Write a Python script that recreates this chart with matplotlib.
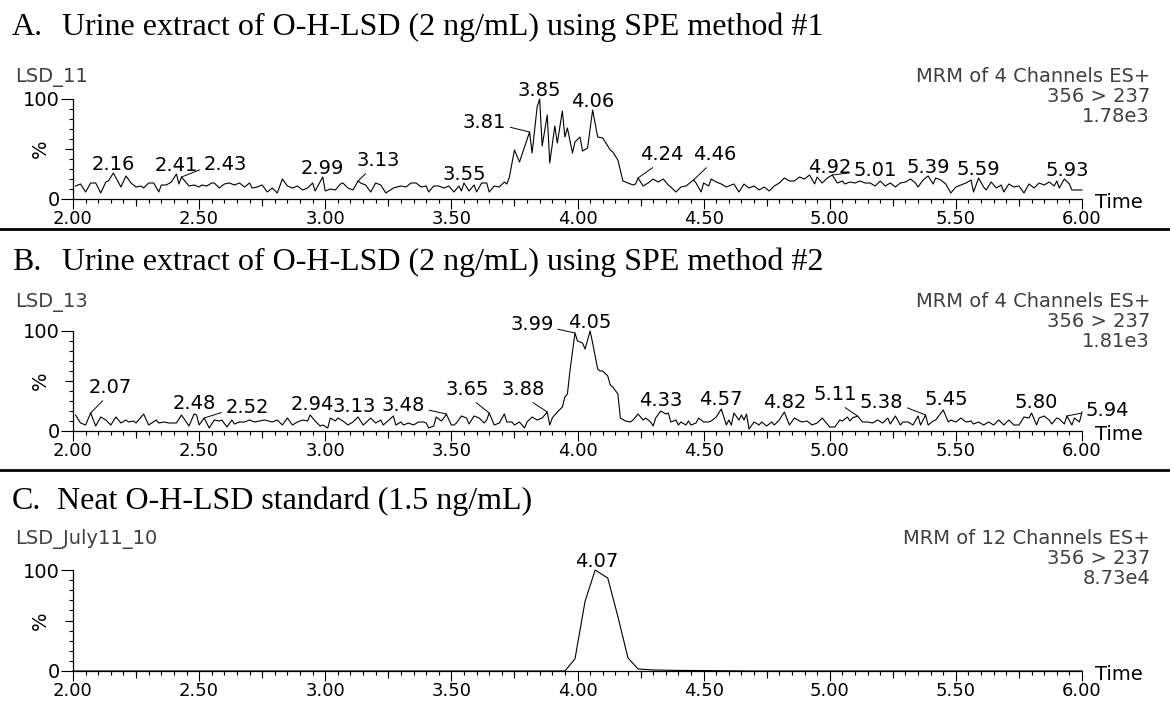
import matplotlib
matplotlib.use("Agg")
import matplotlib.pyplot as plt
from matplotlib.lines import Line2D
from matplotlib.ticker import MultipleLocator, FormatStrFormatter
import numpy as np

#Canvas size in pixels (dpi 100) and pixel -> point factor
W, H = 1170, 704
PT = 0.72

#Panel A: urine extract, SPE method #1 (time in min, intensity in %)
a_time = [2.01, 2.03, 2.05, 2.07, 2.09, 2.11, 2.13, 2.14, 2.16, 2.19,
          2.21, 2.23, 2.25, 2.27, 2.28, 2.30, 2.32, 2.34, 2.35, 2.37,
          2.39, 2.41, 2.42, 2.43, 2.46, 2.48, 2.50, 2.51, 2.53, 2.55,
          2.56, 2.58, 2.60, 2.62, 2.64, 2.66, 2.68, 2.70, 2.71, 2.73,
          2.75, 2.77, 2.79, 2.81, 2.83, 2.85, 2.87, 2.89, 2.91, 2.93,
          2.95, 2.96, 2.99, 3.00, 3.02, 3.04, 3.06, 3.07, 3.09, 3.11,
          3.13, 3.14, 3.16, 3.18, 3.20, 3.22, 3.24, 3.27, 3.30, 3.32,
          3.34, 3.36, 3.38, 3.40, 3.41, 3.43, 3.45, 3.47, 3.49, 3.51,
          3.53, 3.54, 3.55, 3.57, 3.59, 3.60, 3.62, 3.64, 3.65, 3.67,
          3.69, 3.71, 3.72, 3.73, 3.75, 3.77, 3.81, 3.82, 3.84, 3.85,
          3.86, 3.88, 3.89, 3.91, 3.92, 3.94, 3.95, 3.96, 3.98, 3.99,
          4.01, 4.02, 4.04, 4.06, 4.08, 4.10, 4.13, 4.14, 4.16, 4.18,
          4.20, 4.22, 4.23, 4.24, 4.26, 4.28, 4.30, 4.32, 4.34, 4.36,
          4.37, 4.39, 4.41, 4.43, 4.46, 4.47, 4.49, 4.50, 4.52, 4.53,
          4.55, 4.57, 4.59, 4.61, 4.62, 4.64, 4.66, 4.68, 4.70, 4.72,
          4.74, 4.76, 4.78, 4.80, 4.82, 4.84, 4.86, 4.88, 4.90, 4.92,
          4.94, 4.95, 4.97, 4.99, 5.01, 5.03, 5.05, 5.06, 5.08, 5.10,
          5.12, 5.14, 5.16, 5.18, 5.20, 5.22, 5.24, 5.26, 5.28, 5.30,
          5.32, 5.34, 5.35, 5.37, 5.39, 5.41, 5.42, 5.44, 5.46, 5.48,
          5.50, 5.52, 5.53, 5.54, 5.56, 5.57, 5.59, 5.61, 5.62, 5.64,
          5.66, 5.68, 5.69, 5.71, 5.73, 5.75, 5.77, 5.79, 5.81, 5.83,
          5.85, 5.87, 5.89, 5.90, 5.91, 5.93, 5.95, 5.96, 5.98, 6.00]
a_pct = [13, 15, 7, 16, 16, 6, 17, 18, 26, 12,
         23, 16, 12, 13, 11, 16, 16, 7, 14, 14,
         17, 25, 15, 22, 13, 14, 12, 14, 13, 16,
         16, 11, 15, 16, 14, 16, 12, 16, 11, 12,
         14, 7, 11, 6, 20, 13, 11, 13, 9, 11,
         16, 8, 22, 8, 10, 9, 15, 16, 11, 9,
         18, 16, 14, 7, 16, 14, 6, 11, 13, 12,
         16, 16, 12, 13, 7, 13, 13, 11, 13, 7,
         13, 8, 16, 8, 14, 7, 16, 16, 7, 13,
         12, 17, 15, 22, 49, 37, 67, 46, 92, 100,
         53, 84, 36, 73, 56, 88, 62, 71, 46, 57,
         62, 48, 51, 89, 62, 61, 49, 47, 39, 18,
         16, 14, 15, 21, 13, 16, 20, 17, 20, 14,
         12, 7, 12, 13, 19, 16, 7, 16, 13, 20,
         17, 15, 12, 14, 15, 7, 15, 11, 13, 9,
         12, 8, 13, 16, 21, 18, 18, 22, 20, 24,
         15, 22, 16, 21, 24, 16, 18, 15, 17, 16,
         18, 16, 16, 13, 18, 13, 16, 12, 16, 17,
         20, 16, 12, 19, 23, 15, 21, 19, 15, 6,
         12, 14, 15, 16, 19, 7, 21, 12, 9, 17,
         11, 14, 7, 15, 12, 13, 6, 15, 11, 16,
         14, 17, 13, 18, 11, 20, 15, 9, 9, 9]
a_peaks = [2.16, 2.41, 2.43, 2.99, 3.13, 3.55, 3.81, 3.85, 4.06, 4.24,
           4.46, 4.92, 5.01, 5.39, 5.59, 5.93]

#Panel B: urine extract, SPE method #2
b_time = [2.01, 2.03, 2.05, 2.07, 2.09, 2.11, 2.13, 2.15, 2.17, 2.19,
          2.21, 2.22, 2.24, 2.25, 2.28, 2.30, 2.33, 2.34, 2.36, 2.38,
          2.41, 2.43, 2.46, 2.48, 2.49, 2.50, 2.52, 2.54, 2.56, 2.58,
          2.59, 2.61, 2.63, 2.64, 2.66, 2.68, 2.70, 2.72, 2.74, 2.76,
          2.79, 2.81, 2.83, 2.85, 2.87, 2.89, 2.91, 2.93, 2.94, 2.96,
          2.98, 2.99, 3.01, 3.02, 3.04, 3.05, 3.07, 3.09, 3.11, 3.13,
          3.15, 3.16, 3.18, 3.20, 3.22, 3.23, 3.27, 3.28, 3.30, 3.31,
          3.33, 3.35, 3.37, 3.39, 3.40, 3.41, 3.43, 3.44, 3.46, 3.47,
          3.48, 3.50, 3.51, 3.52, 3.54, 3.56, 3.57, 3.59, 3.61, 3.63,
          3.64, 3.65, 3.67, 3.69, 3.71, 3.72, 3.74, 3.75, 3.77, 3.79,
          3.80, 3.82, 3.84, 3.85, 3.86, 3.88, 3.89, 3.90, 3.92, 3.94,
          3.95, 3.96, 3.97, 3.99, 4.00, 4.02, 4.03, 4.05, 4.06, 4.08,
          4.09, 4.10, 4.12, 4.13, 4.14, 4.16, 4.17, 4.19, 4.21, 4.22,
          4.24, 4.26, 4.27, 4.29, 4.30, 4.31, 4.33, 4.35, 4.36, 4.37,
          4.39, 4.40, 4.41, 4.43, 4.44, 4.45, 4.47, 4.48, 4.50, 4.52,
          4.53, 4.55, 4.57, 4.59, 4.60, 4.61, 4.62, 4.64, 4.65, 4.66,
          4.67, 4.68, 4.70, 4.72, 4.73, 4.75, 4.77, 4.78, 4.80, 4.82,
          4.84, 4.86, 4.88, 4.89, 4.91, 4.93, 4.95, 4.97, 5.00, 5.02,
          5.04, 5.05, 5.07, 5.08, 5.09, 5.11, 5.13, 5.15, 5.17, 5.19,
          5.21, 5.23, 5.24, 5.26, 5.28, 5.29, 5.31, 5.33, 5.35, 5.36,
          5.38, 5.39, 5.41, 5.42, 5.45, 5.47, 5.48, 5.50, 5.52, 5.54,
          5.56, 5.57, 5.59, 5.61, 5.63, 5.65, 5.67, 5.69, 5.71, 5.73,
          5.75, 5.77, 5.79, 5.80, 5.82, 5.83, 5.85, 5.87, 5.88, 5.90,
          5.91, 5.93, 5.94, 5.96, 5.97, 5.99, 6.00]
b_pct = [16, 8, 6, 18, 5, 14, 11, 6, 14, 8,
         11, 9, 10, 8, 17, 6, 11, 8, 9, 8,
         8, 16, 5, 17, 16, 6, 13, 3, 11, 10,
         11, 4, 11, 7, 9, 9, 11, 9, 10, 11,
         9, 11, 6, 13, 6, 9, 11, 10, 16, 10,
         5, 6, 3, 13, 10, 13, 10, 6, 9, 14,
         6, 8, 13, 8, 11, 6, 15, 6, 9, 6,
         8, 6, 9, 9, 8, 3, 5, 14, 10, 13,
         17, 6, 6, 8, 15, 13, 7, 15, 13, 8,
         11, 18, 6, 8, 17, 9, 9, 6, 9, 3,
         9, 14, 11, 12, 13, 19, 6, 13, 19, 24,
         34, 37, 60, 98, 90, 88, 82, 100, 88, 62,
         60, 60, 55, 46, 44, 37, 13, 10, 9, 11,
         17, 11, 13, 9, 5, 13, 20, 17, 18, 9,
         11, 6, 9, 6, 10, 6, 8, 13, 9, 9,
         10, 14, 22, 6, 11, 6, 18, 11, 16, 11,
         17, 2, 9, 6, 9, 5, 9, 6, 11, 19,
         6, 13, 10, 9, 10, 6, 8, 13, 4, 4,
         11, 10, 14, 10, 13, 15, 9, 9, 8, 11,
         8, 13, 7, 15, 6, 9, 9, 6, 15, 6,
         16, 6, 10, 11, 21, 9, 11, 9, 13, 9,
         10, 7, 9, 6, 9, 6, 11, 6, 11, 6,
         6, 14, 13, 18, 6, 13, 15, 11, 7, 13,
         12, 7, 15, 6, 13, 9, 19]
b_peaks = [2.07, 2.48, 2.52, 2.94, 3.13, 3.48, 3.65, 3.88, 3.99, 4.05,
           4.33, 4.57, 4.82, 5.11, 5.38, 5.45, 5.80, 5.94]

#Panel C: neat standard, flat baseline around a single peak
c_time = [2.00, 3.95, 3.99, 4.03, 4.07, 4.12, 4.16, 4.20, 4.24, 4.30,
          4.40, 4.55, 4.70, 6.00]
c_pct = [0, 0, 12, 69, 100, 92, 54, 13, 2, 1, 0.6, 0.3, 0, 0]
c_peaks = [4.07]

#Label placement: (dx, dy) in pixels from the apex to the text baseline,
#plus the anchor of the leader line on the text (None = no leader)
a_label_pos = [(0, 3, None), (0, 3, None), (44, 7, (0, 0.3)), (0, 3, None),
               (20, 15, (0.3, 0)), (0, 3, None), (-45, 4, (1, 0.3)),
               (0, 3, None), (0, 3, None), (24, 18, (0.4, 0)),
               (21, 20, (0.4, 0)), (20, 2, None), (43, -1, (0, 0.4)),
               (0, 3, None), (0, 3, None), (3, 3, None)]
b_label_pos = [(20, 20, (0.4, 0)), (0, 5, None), (43, 5, (0, 0.3)),
               (2, 5, None), (-4, 5, None), (-43, 3, (1, 0.3)),
               (-22, 18, (0.6, 0)), (-24, 17, (0.6, 0)), (-43, 3, (1, 0.3)),
               (0, 3, None), (0, 5, None), (0, 4, None), (0, 4, None),
               (-22, 16, (0.6, 0)), (-44, 7, (1, 0.3)), (3, 5, None),
               (5, 5, None), (40, 0, (0, 0.4))]
c_label_pos = [(2, 3, None)]

plt.rcParams['font.family'] = ['DejaVu Sans']
TXT = 14
TICK_TXT = 13
GREY = '#404040'


def fx(px):
    return px / W


def fy(py):
    return 1 - py / H


def chromatogram(fig, top, bottom, time, pct, peaks, label_pos):
    """Draw one trace on its own axes, top/bottom are pixel rows of 100% and 0%"""
    ax = fig.add_axes([fx(73), fy(bottom), fx(1082) - fx(73), (bottom - top) / H])
    ax.plot(time, pct, color='black', lw=0.8, clip_on=False)
    ax.set_xlim(2, 6)
    ax.set_ylim(0, 100)
    ax.patch.set_alpha(0)
    ax.spines[['top', 'right']].set_visible(False)
    for s in ('left', 'bottom'):
        ax.spines[s].set_linewidth(0.9)

    #axis ticks: majors with labels, quarter / half marks a bit longer
    ax.xaxis.set_major_locator(MultipleLocator(0.5))
    ax.xaxis.set_minor_locator(MultipleLocator(0.05))
    ax.xaxis.set_major_formatter(FormatStrFormatter('%.2f'))
    ax.set_yticks([0, 100], ['0', '100'])
    ax.yaxis.set_minor_locator(MultipleLocator(10))
    ax.tick_params(which='major', direction='out', length=10 * PT, width=0.8,
                   labelsize=TICK_TXT, pad=0.8)
    ax.tick_params(axis='y', which='major', length=12 * PT, labelsize=TXT)
    ax.tick_params(which='minor', direction='out', length=4 * PT, width=0.8)
    secx = ax.secondary_xaxis('bottom')
    secx.set_xticks(np.arange(2.25, 6, 0.5))
    secx.tick_params(length=7 * PT, width=0.8, labelbottom=False)
    secx.spines['bottom'].set_visible(False)
    secy = ax.secondary_yaxis('left')
    secy.set_yticks([50])
    secy.tick_params(length=8 * PT, width=0.8, labelleft=False)
    secy.spines['left'].set_visible(False)

    ax.annotate('Time', xy=(1, 0), xycoords='axes fraction', xytext=(13 * PT, -4 * PT),
                textcoords='offset points', ha='left', va='center', fontsize=TXT)
    ax.annotate('%', xy=(0, 0.5), xycoords='axes fraction', xytext=(-33 * PT, 0),
                textcoords='offset points', ha='center', va='center', rotation=90,
                fontsize=TXT)

    #peak retention time labels
    for t, (dx, dy, rel) in zip(peaks, label_pos):
        h = pct[time.index(t)]
        arrow = None
        if rel is not None:
            arrow = dict(arrowstyle='-', lw=0.7, color='black', relpos=rel,
                         shrinkA=1, shrinkB=0)
        ax.annotate(f'{t:.2f}', xy=(t, h), xytext=(dx * PT, dy * PT),
                    textcoords='offset points', ha='center', va='baseline',
                    fontsize=TXT, arrowprops=arrow, annotation_clip=False)
    return ax


def header(fig, letter, title, title_x, base, sample, channels, scale, rows):
    """Panel caption and the acquisition info lines"""
    fig.text(fx(12), fy(base), letter, family='Liberation Serif', fontsize=23,
             va='baseline')
    fig.text(fx(title_x), fy(base), title, family='Liberation Serif', fontsize=23,
             va='baseline')
    fig.text(fx(15), fy(rows[0]), sample, color=GREY, fontsize=TXT, va='baseline')
    for txt, row in zip([channels, '356 > 237', scale], rows):
        fig.text(fx(1150), fy(row), txt, color=GREY, fontsize=TXT, ha='right',
                 va='baseline')


fig = plt.figure(figsize=(W / 100, H / 100), dpi=100)

header(fig, 'A.', 'Urine extract of O-H-LSD (2 ng/mL) using SPE method #1', 62, 35,
       'LSD_11', 'MRM of 4 Channels ES+', '1.78e3', [82, 102, 122])
chromatogram(fig, 99, 199, a_time, a_pct, a_peaks, a_label_pos)

header(fig, 'B.', 'Urine extract of O-H-LSD (2 ng/mL) using SPE method #2', 62, 270,
       'LSD_13', 'MRM of 4 Channels ES+', '1.81e3', [307, 327, 347])
chromatogram(fig, 331, 431, b_time, b_pct, b_peaks, b_label_pos)

header(fig, 'C.', 'Neat O-H-LSD standard (1.5 ng/mL)', 57, 509,
       'LSD_July11_10', 'MRM of 12 Channels ES+', '8.73e4', [544, 564, 584])
chromatogram(fig, 570, 671, c_time, c_pct, c_peaks, c_label_pos)

#separators between the panels
for row in (229, 470):
    fig.add_artist(Line2D([0, 1], [fy(row), fy(row)], transform=fig.transFigure,
                          color='black', lw=2))

fig.savefig('out.png', dpi=100)
plt.close(fig)
